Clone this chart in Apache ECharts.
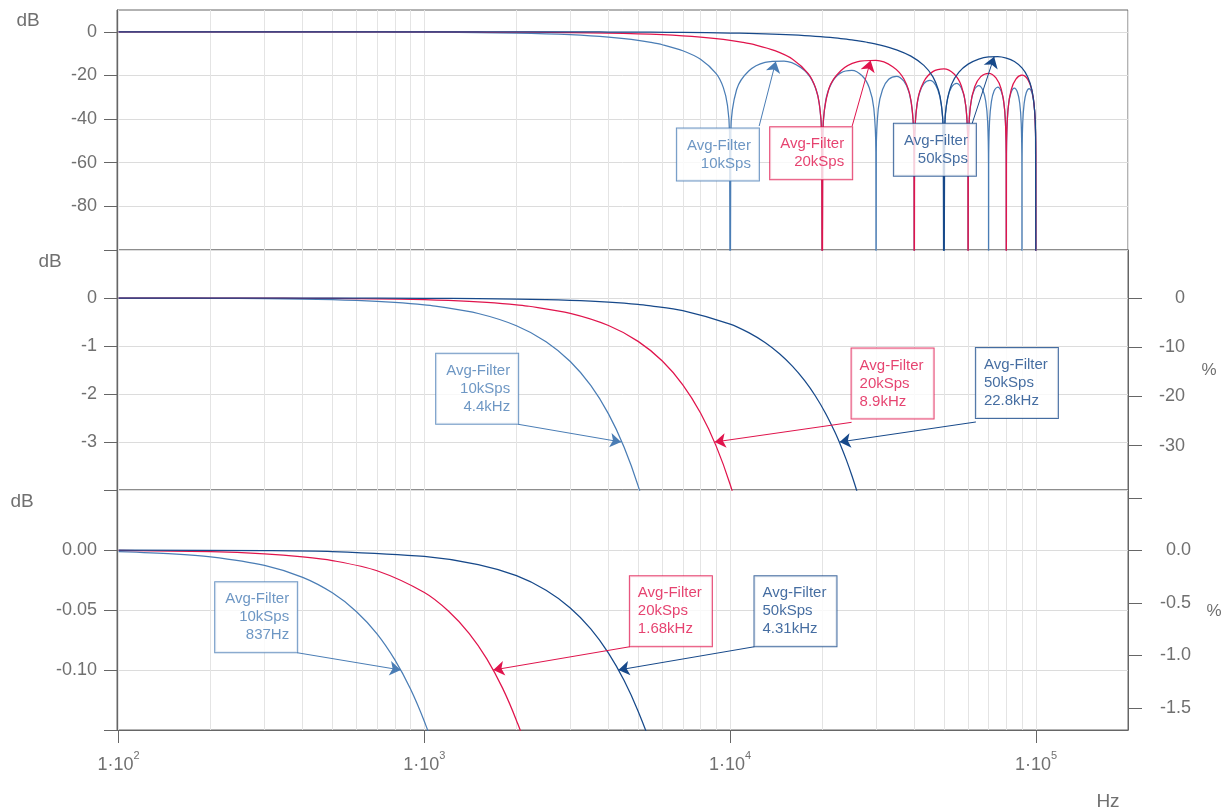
<!DOCTYPE html>
<html><head><meta charset="utf-8">
<script src="https://cdn.jsdelivr.net/npm/echarts@6/dist/echarts.min.js"></script>
<style>html,body{margin:0;padding:0;background:#fff}#c{width:1230px;height:811px}</style>
</head><body><div id="c"></div>
<script>
// ---------- data ----------
const filterNames = ['10kSps', '20kSps', '50kSps'];

const f10 = [100,150,200,300,400,500,600,700,800,900,1000,1100,1500,2000,2500,3000,3500,4000,4500,5000,5500,6000,7000,8000,9000,9500,9800,9950,10000,
 10050,10500,11500,13000,15000,17000,18500,19500,19950,20000,
 20050,20500,21500,23000,25000,27000,28500,29500,29950,30000,
 30050,30500,31500,33000,35000,37000,38500,39500,39950,40000,
 40050,40500,41500,43000,45000,47000,48500,49500,49950,50000,
 50050,50500,51500,53000,55000,57000,58500,59500,59950,60000,
 60050,60500,61500,63000,65000,67000,68500,69500,69950,70000,
 70050,70500,71500,73000,75000,77000,78500,79500,79950,80000,
 80050,80500,81500,83000,85000,87000,88500,89500,89950,90000,
 90050,90500,91500,93000,95000,97000,98500,99500,99950,100000];
const db10 = [-0.0014,-0.0032,-0.0057,-0.0128,-0.0228,-0.0357,-0.0514,-0.0699,-0.0914,-0.1157,-0.1430,-0.1731,-0.3231,-0.5778,-0.9099,-1.3231,-1.8223,-2.4144,-3.1076,-3.9134,-4.8472,-5.929,-8.669,-12.597,-19.199,-25.58,-33.77,-45.94,-200,
 -46.03,-26.44,-17.97,-14.00,-13.38,-16.29,-22.02,-31.72,-51.88,-200,
 -51.92,-32.14,-23.29,-18.83,-17.68,-20.15,-25.61,-35.14,-55.23,-200,
 -55.26,-35.40,-26.41,-21.76,-20.38,-22.65,-27.98,-37.42,-57.48,-200,
 -57.50,-37.61,-28.54,-23.78,-22.27,-24.42,-29.66,-39.05,-59.08,-200,
 -59.10,-39.19,-30.07,-25.24,-23.64,-25.71,-30.89,-40.24,-60.26,-200,
 -60.27,-40.34,-31.18,-26.30,-24.64,-26.64,-31.77,-41.09,-61.10,-200,
 -61.10,-41.16,-31.98,-27.06,-25.33,-27.28,-32.38,-41.67,-61.66,-200,
 -61.67,-41.72,-32.51,-27.55,-25.78,-27.68,-32.74,-42.01,-61.99,-200,
 -62.00,-42.03,-32.80,-27.81,-25.99,-27.85,-32.88,-42.13,-62.10,-200];

const f20 = [100,200,300,400,500,700,1000,1200,1400,1600,1800,2000,2200,3000,4000,5000,6000,7000,8000,9000,10000,11000,12000,14000,16000,18000,19000,19600,19900,20000,
 20100,21000,23000,26000,30000,34000,37000,39000,39900,40000,
 40100,41000,43000,46000,50000,54000,57000,59000,59900,60000,
 60100,61000,63000,66000,70000,74000,77000,79000,79900,80000,
 80100,81000,83000,86000,90000,94000,97000,99000,99900,100000];
const db20 = [-0.0004,-0.0014,-0.0032,-0.0057,-0.0088,-0.0173,-0.0354,-0.0510,-0.0694,-0.0907,-0.1149,-0.1420,-0.1719,-0.3206,-0.5735,-0.9032,-1.3134,-1.8089,-2.3971,-3.0858,-3.8865,-4.8148,-5.890,-8.616,-12.529,-19.113,-25.48,-33.67,-45.83,-200,
 -45.92,-26.32,-17.83,-13.82,-13.14,-15.98,-21.65,-31.30,-51.45,-200,
 -51.48,-31.68,-22.78,-18.25,-16.99,-19.34,-24.71,-34.17,-54.23,-200,
 -54.25,-34.37,-25.30,-20.54,-19.00,-21.09,-26.28,-35.63,-55.64,-200,
 -55.65,-35.72,-26.55,-21.63,-19.89,-21.80,-26.85,-36.11,-56.08,-200];

const f50 = [100,300,500,1000,1500,2000,2500,3000,3500,4000,4500,5000,5500,7000,10000,11500,13000,14500,16000,17500,19000,20500,22000,23000,24000,25000,26000,28000,31000,35000,39000,43000,46000,48000,49000,49700,50000,
 50300,51000,53000,56000,60000,65000,70000,75000,80000,85000,90000,94000,97000,99000,99700,100000];
const db50 = [-0.0001,-0.0005,-0.0013,-0.0054,-0.0121,-0.0214,-0.0335,-0.0483,-0.0657,-0.0859,-0.1088,-0.1343,-0.1627,-0.2640,-0.5432,-0.7221,-0.9279,-1.1617,-1.4241,-1.7170,-2.0418,-2.4006,-2.7937,-3.0770,-3.3781,-3.6982,-4.0374,-4.780,-6.077,-8.244,-11.146,-15.378,-20.536,-26.788,-32.934,-43.485,-200,
 -43.567,-33.207,-23.967,-18.457,-14.816,-12.497,-11.475,-11.353,-12.041,-13.639,-16.549,-20.683,-26.577,-36.083,-46.535,-200];

// tick values
const xMajorTicks = [100, 1000, 10000, 100000];
const yTicksTop = [-100, -80, -60, -40, -20, 0];
const yLabelsTop = [-80, -60, -40, -20, 0];
const yTicksMid = [-4, -3, -2, -1, 0, 1];
const yLabelsMid = [-3, -2, -1, 0];
const pctTicksMid = [-30, -20, -10, 0];
const yTicksBot = [-0.15, -0.1, -0.05, 0, 0.05];
const yLabelsBot = [-0.1, -0.05, 0];
const pctTicksBot = [0.5, 0, -0.5, -1, -1.5];
const pctLabelsBot = [0, -0.5, -1, -1.5];

// annotation texts (panel 0 = |H| overview, 1 = -3 dB, 2 = -0.1 dB)
const annTopText = [['Avg-Filter', '10kSps'], ['Avg-Filter', '20kSps'], ['Avg-Filter', '50kSps']];
const annMidText = [['Avg-Filter', '10kSps', '4.4kHz'], ['Avg-Filter', '20kSps', '8.9kHz'], ['Avg-Filter', '50kSps', '22.8kHz']];
const annBotText = [['Avg-Filter', '10kSps', '837Hz'], ['Avg-Filter', '20kSps', '1.68kHz'], ['Avg-Filter', '50kSps', '4.31kHz']];
// arrow targets on the curves [Hz, dB]
const annTopTip = [[14100, -13.6], [28800, -13.2], [73000, -11.4]];
const annMidTip = [[4400, -3], [8900, -3], [22800, -3]];
const annBotTip = [[837, -0.1], [1680, -0.1], [4310, -0.1]];

// ---------- layout / style ----------
const colors = ['#4a7db5', '#e0144c', '#17498a'];
const FONT = 'Liberation Sans, Arial, sans-serif';
const TXT = '#707070';
const AX = '#666666';
const XMIN = 98.8, XMAX = 200000;
const gridTops = [10, 250, 490];

const layout = [
  { box: [[12415, -56.2], [25060, -55.7], [63620, -54.0]],
    from: [[12440, -43.2], [25060, -43.2], [61850, -42.0]],
    align: ['right', 'right', 'right'] },
  { box: [[2026, -1.892], [24950, -1.781], [63620, -1.771]],
    from: [[2026, -2.631], [24950, -2.590], [63620, -2.583]],
    align: ['right', 'left', 'left'] },
  { box: [[383.7, -0.0561], [4699, -0.0510], [12010, -0.0510]],
    from: [[383.7, -0.0856], [4699, -0.0806], [12010, -0.0806]],
    align: ['right', 'left', 'left'] }
];

const gridFreqs = [];
for (let d = 2; d <= 5; d++) for (let k = 1; k <= 9; k++) { const v = k * Math.pow(10, d); if (v <= XMAX) gridFreqs.push(v); }

const curves = [[f10, db10], [f20, db20], [f50, db50]];
const pairs = (f, d) => f.map((x, i) => [x, d[i]]);

const grids = gridTops.map(t => ({ left: 117, right: 102, top: t, height: 240, show: true, borderColor: AX, borderWidth: 1, backgroundColor: 'transparent' }));

const xAxes = [0, 1, 2].map(g => ({
  type: 'log', logBase: 10, gridIndex: g, min: XMIN, max: XMAX,
  axisLine: { show: false, onZero: false }, axisTick: { show: false, customValues: gridFreqs },
  axisLabel: { show: false }, splitLine: { show: true, lineStyle: { color: '#e4e4e4', width: 1 } }
}));
xAxes.push({
  type: 'log', logBase: 10, gridIndex: 2, min: XMIN, max: XMAX, position: 'bottom',
  axisLine: { show: true, onZero: false, lineStyle: { color: AX } },
  axisTick: { show: true, customValues: xMajorTicks, length: 13, inside: false, lineStyle: { color: AX } },
  axisLabel: {
    customValues: xMajorTicks, margin: 20, color: TXT, fontFamily: FONT, fontSize: 18,
    formatter: v => '{b|1·10}{s|' + Math.round(Math.log10(v)) + '}',
    rich: { b: { fontSize: 18, fontFamily: FONT, color: TXT, lineHeight: 24, verticalAlign: 'bottom' },
            s: { fontSize: 11, fontFamily: FONT, color: TXT, lineHeight: 24, verticalAlign: 'top' } }
  },
  splitLine: { show: false }
});

const yCommon = (g, min, max, ticks, labels, fmt) => ({
  type: 'value', gridIndex: g, min, max, position: 'left',
  axisLine: { show: true, onZero: false, lineStyle: { color: AX } },
  axisTick: { show: true, customValues: ticks, length: 13, inside: false, lineStyle: { color: AX } },
  axisLabel: { customValues: labels, margin: 20, color: TXT, fontFamily: FONT, fontSize: 18, formatter: fmt },
  splitLine: { show: true, lineStyle: { color: '#dcdcdc', width: 1 } }
});
const yRight = (g, min, max, ticks, labels, fmt, margin) => ({
  type: 'value', gridIndex: g, min, max, position: 'right',
  axisLine: { show: true, onZero: false, lineStyle: { color: AX } },
  axisTick: { show: true, customValues: ticks, length: 14, inside: false, lineStyle: { color: AX } },
  axisLabel: { customValues: labels, margin, align: 'right', color: TXT, fontFamily: FONT, fontSize: 18, formatter: fmt },
  splitLine: { show: false }
});
const yAxes = [
  yCommon(0, -100, 10, yTicksTop, yLabelsTop, v => String(v)),
  yCommon(1, -4, 1, yTicksMid, yLabelsMid, v => String(v)),
  yRight(1, -39.04, 9.84, pctTicksMid, pctTicksMid, v => String(v), 57),
  yCommon(2, -0.15, 0.05, yTicksBot, yLabelsBot, v => v.toFixed(2)),
  yRight(2, -1.712, 0.577, pctTicksBot, pctLabelsBot, v => v.toFixed(1), 63)
];
const yIdx = [0, 1, 3];

const series = [];
for (let g = 0; g < 3; g++) {
  curves.forEach((c, i) => {
    series.push({
      type: 'line', name: filterNames[i], xAxisIndex: g, yAxisIndex: yIdx[g],
      data: pairs(c[0], c[1]), symbol: 'none', showSymbol: false, clip: true,
      smooth: 0.3,
      lineStyle: { color: colors[i], width: 1.25 }, z: 2 + i, animation: false, silent: true
    });
  });
}
const annTexts = [annTopText, annMidText, annBotText];
const annTips = [annTopTip, annMidTip, annBotTip];
for (let g = 0; g < 3; g++) {
  const L = layout[g];
  series.push({
    type: 'scatter', xAxisIndex: g, yAxisIndex: yIdx[g], symbolSize: 1, z: 20, animation: false, silent: true,
    itemStyle: { color: 'rgba(0,0,0,0)' },
    data: annTexts[g].map((t, i) => ({
      value: L.box[i],
      label: {
        show: true, position: 'inside', formatter: t.join('\n'), align: L.align[i], verticalAlign: 'middle',
        color: colors[i], fontFamily: FONT, fontSize: 15, lineHeight: 18, width: 66,
        backgroundColor: '#fff', borderColor: colors[i], borderWidth: 1, padding: [8, 8, 8, 8]
      }
    })),
    markLine: {
      silent: true, animation: false, symbol: ['none', 'arrow'], symbolSize: 11,
      label: { show: false }, lineStyle: { type: 'solid', width: 1 },
      data: annTips[g].map((tip, i) => [
        { coord: L.from[i], lineStyle: { color: colors[i], type: 'solid', width: 1 }, itemStyle: { color: colors[i] } },
        { coord: tip }
      ])
    }
  });
}

const txt = (x, y, s, size) => ({ type: 'text', x, y, style: { text: s, fill: TXT, font: size + 'px ' + FONT, align: 'center', verticalAlign: 'middle' }, z: 100 });

const chart = echarts.init(document.getElementById('c'), null, { renderer: 'canvas' });
chart.setOption({
  backgroundColor: '#fff', animation: false,
  grid: grids, xAxis: xAxes, yAxis: yAxes, series,
  graphic: [txt(28, 21, 'dB', 19), txt(50, 262, 'dB', 19), txt(22, 502, 'dB', 19),
            txt(1209, 370, '%', 17), txt(1214, 611, '%', 17), txt(1108, 802, 'Hz', 19)]
});
</script></body></html>
